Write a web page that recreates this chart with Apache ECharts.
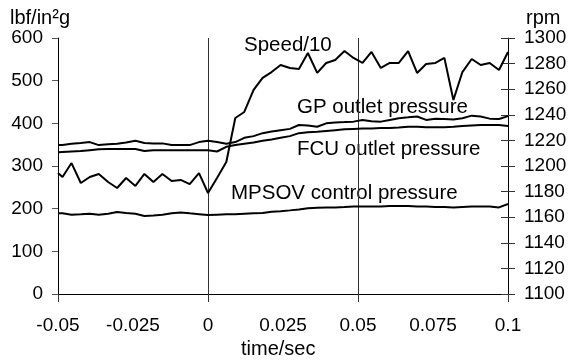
<!DOCTYPE html>
<html>
<head>
<meta charset="utf-8">
<script src="https://cdn.jsdelivr.net/npm/echarts@6/dist/echarts.min.js"></script>
<style>
  html, body { margin: 0; padding: 0; background: #fff; }
  #main { width: 571px; height: 363px; }
</style>
</head>
<body>
<div id="main"></div>
<script>
// time axis (s)
var times = [-0.05, -0.0485, -0.0455, -0.0424, -0.0394, -0.0364, -0.0333, -0.0303, -0.0273, -0.0242,
  -0.0212, -0.0182, -0.0152, -0.0121, -0.0091, -0.0061, -0.003,
  0, 0.003, 0.0061, 0.0091, 0.0121, 0.0152, 0.0182, 0.0212, 0.0242, 0.0273,
  0.0303, 0.0333, 0.0364, 0.0394, 0.0424, 0.0455, 0.0485, 0.0515, 0.0545, 0.0576,
  0.0606, 0.0636, 0.0667, 0.0697, 0.0727, 0.0758, 0.0788, 0.0818, 0.0848, 0.0879,
  0.0909, 0.0939, 0.097, 0.1]

// speed (rpm, right axis)
var speed = [1194.5, 1191.4, 1202.3, 1186.7, 1191.4, 1193.8, 1187.5, 1182.8, 1190.6, 1184.4,
  1193.8, 1187.5, 1193.8, 1188.3, 1189.1, 1185.9, 1194.5,
  1178.9, 1190.6, 1203.1, 1237.5, 1242.2, 1259.4, 1268.8, 1273.4, 1278.9, 1276.6,
  1275.8, 1288.3, 1272.7, 1280.5, 1282.8, 1289.8, 1284.4, 1280.5, 1289.1, 1276.6,
  1280.5, 1280.5, 1289.8, 1272.7, 1279.7, 1280.5, 1284.4, 1251.6, 1273.4, 1283.6,
  1278.9, 1280.5, 1275, 1289.1]

// pressures (lbf/in2g, left axis)
var gpOutlet = [349, 349, 352, 354, 356, 349, 351, 352, 355, 359,
  354, 353, 353, 349, 349, 349, 356,
  359, 356, 352, 356, 366, 370, 377, 381, 384, 387,
  396, 395, 392, 400, 402, 403, 404, 408, 405, 404,
  408, 412, 414, 416, 408, 411, 410, 409, 412, 418,
  416, 411, 410, 417]

var fcuOutlet = [332, 333, 334, 335, 337, 339, 340, 340, 340, 340,
  335, 337, 337, 337, 337, 337, 337,
  337, 334, 345, 349, 352, 355, 359, 362, 366, 370,
  377, 379, 380, 382, 384, 386, 387, 388, 388, 389,
  389, 390, 392, 392, 391, 391, 391, 392, 394, 395,
  396, 396, 396, 394]

var mpsov = [189, 189, 186, 187, 188, 186, 188, 192, 190, 188,
  183, 184, 186, 189, 191, 189, 187,
  185, 186, 187, 187, 188, 189, 190, 193, 194, 196,
  198, 201, 202, 203, 203, 204, 205, 205, 205, 205,
  206, 206, 206, 205, 205, 204, 204, 203, 204, 205,
  205, 205, 203, 211]

var font = "'Liberation Sans', Arial, sans-serif"

function pairs(vals) {
  return times.map(function (t, i) { return [t, vals[i]] })
}

// plain numbers, no thousands separator
function fmt(v) {
  return String(Math.round(v * 1000) / 1000)
}

var myChart = echarts.init(document.getElementById('main'))

var lineStyle = { color: '#000', width: 2 }

var option = {
  animation: false,
  backgroundColor: '#fff',
  grid: { left: 58, right: 63, top: 38, bottom: 69 },
  xAxis: [
    {
      // labels every 0.025
      type: 'value',
      position: 'bottom',
      min: -0.05,
      max: 0.1,
      interval: 0.025,
      axisLine: { onZero: false, lineStyle: { color: '#000', width: 1 } },
      axisTick: { show: false },
      splitLine: { show: false },
      axisLabel: {
        color: '#000', fontSize: 19, fontFamily: font, margin: 22,
        formatter: fmt
      }
    },
    {
      // ticks and grid lines every 0.05
      type: 'value',
      position: 'bottom',
      min: -0.05,
      max: 0.1,
      interval: 0.05,
      axisLine: { show: false, onZero: false },
      axisTick: { show: true, length: 8, lineStyle: { color: '#333' } },
      axisLabel: { show: false },
      splitLine: { show: true, lineStyle: { color: '#333', width: 1 } }
    }
  ],
  yAxis: [
    {
      type: 'value',
      position: 'left',
      min: 0,
      max: 600,
      interval: 100,
      axisLine: { show: true, onZero: false, lineStyle: { color: '#000' } },
      axisTick: { show: true, length: 6, lineStyle: { color: '#555' } },
      splitLine: { show: false },
      axisLabel: { color: '#000', fontSize: 19, fontFamily: font, margin: 15, formatter: fmt }
    },
    {
      type: 'value',
      position: 'right',
      min: 1100,
      max: 1300,
      interval: 20,
      axisLine: { show: true, onZero: false, lineStyle: { color: '#000' } },
      axisTick: { show: true, length: 7, lineStyle: { color: '#333' } },
      splitLine: { show: false },
      axisLabel: { color: '#000', fontSize: 19, fontFamily: font, margin: 16, formatter: fmt }
    },
    {
      // inner half of the right ticks
      type: 'value',
      position: 'right',
      min: 1100,
      max: 1300,
      interval: 20,
      axisLine: { show: false, onZero: false },
      axisTick: { show: true, inside: true, length: 7, lineStyle: { color: '#333' } },
      splitLine: { show: false },
      axisLabel: { show: false }
    }
  ],
  series: [
    {
      name: 'Speed/10', type: 'line', xAxisIndex: 0, yAxisIndex: 1,
      data: pairs(speed), showSymbol: false, lineStyle: lineStyle
    },
    {
      name: 'GP outlet pressure', type: 'line', xAxisIndex: 0, yAxisIndex: 0,
      data: pairs(gpOutlet), showSymbol: false, lineStyle: lineStyle
    },
    {
      name: 'FCU outlet pressure', type: 'line', xAxisIndex: 0, yAxisIndex: 0,
      data: pairs(fcuOutlet), showSymbol: false, lineStyle: lineStyle
    },
    {
      name: 'MPSOV control pressure', type: 'line', xAxisIndex: 0, yAxisIndex: 0,
      data: pairs(mpsov), showSymbol: false, lineStyle: lineStyle
    }
  ],
  graphic: [
    { type: 'text', left: 10, top: 8, style: { text: 'lbf/in²g', fill: '#000', font: '20px ' + font } },
    { type: 'text', left: 526, top: 8, style: { text: 'rpm', fill: '#000', font: '20px ' + font } },
    { type: 'text', left: 244, top: 35, style: { text: 'Speed/10', fill: '#000', font: '20.5px ' + font } },
    { type: 'text', left: 297, top: 97, style: { text: 'GP outlet pressure', fill: '#000', font: '20.5px ' + font } },
    { type: 'text', left: 297, top: 139, style: { text: 'FCU outlet pressure', fill: '#000', font: '20.5px ' + font } },
    { type: 'text', left: 231, top: 183, style: { text: 'MPSOV control pressure', fill: '#000', font: '20.5px ' + font } },
    { type: 'text', left: 241, top: 339, style: { text: 'time/sec', fill: '#000', font: '20px ' + font } }
  ]
}

myChart.setOption(option)
</script>
</body>
</html>
